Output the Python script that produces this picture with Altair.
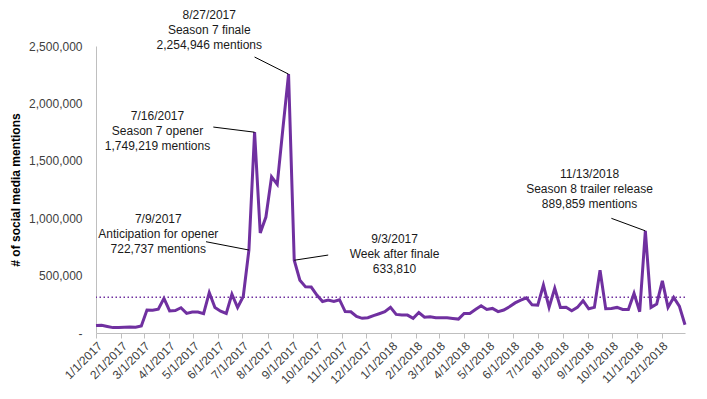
import altair as alt
import pandas as pd

# Weekly mentions, week starting 1/1/2017 through 12/30/2018
start_date = "2017-01-01"
end_date = "2018-12-30"
mentions = [
    65000, 68000, 57000, 47000, 48000, 50000, 53000, 50000, 62000, 200000,
    198000, 208000, 302000, 192000, 196000, 220000, 171000, 182000, 182000, 168000,
    352000, 222000, 190000, 170000, 338000, 222000, 318000, 722737, 1749219, 871000,
    1010000, 1360000, 1295000, 1780000, 2254946, 633810, 460000, 402000, 400000, 330000,
    274000, 286000, 274000, 290000, 187000, 185000, 144000, 128000, 133000, 152000,
    168000, 185000, 224000, 162000, 156000, 156000, 128000, 178000, 137000, 142000,
    133000, 133000, 133000, 127000, 121000, 170000, 170000, 205000, 237000, 205000,
    214000, 186000, 200000, 228000, 262000, 286000, 307000, 245000, 243000, 417000,
    223000, 390000, 223000, 225000, 194000, 223000, 281000, 211000, 223000, 547000,
    211000, 214000, 223000, 205000, 205000, 345000, 185000, 889859, 223000, 252000,
    454000, 223000, 310000, 234000, 72000,
]
weeks = pd.date_range(start_date, periods=len(mentions), freq="7D").strftime("%Y-%m-%d").tolist()
average_value = [311000]
y_ticks = [0, 500000, 1000000, 1500000, 2000000, 2500000]

# Annotations
ann_text = [
    "8/27/2017\nSeason 7 finale\n2,254,946 mentions",
    "7/16/2017\nSeason 7 opener\n1,749,219 mentions",
    "7/9/2017\nAnticipation for opener\n722,737 mentions",
    "9/3/2017\nWeek after finale\n633,810",
    "11/13/2018\nSeason 8 trailer release\n889,859 mentions",
]
ann_text_date = ["2017-05-21", "2017-03-18", "2017-03-19", "2018-01-05", "2018-09-03"]
ann_text_value = [2812000, 1930000, 1035000, 864000, 1427000]
lead_from_date = ["2017-07-16", "2017-05-26", "2017-05-17", "2017-09-03", "2018-09-30"]
lead_from_value = [2404000, 1794000, 795000, 633810, 999000]
lead_to_date = ["2017-08-27", "2017-07-16", "2017-07-09", "2017-10-15", "2018-11-11"]
lead_to_value = [2254946, 1749219, 722737, 679000, 889859]

PURPLE = "#7030A0"

df = pd.DataFrame({"week": weeks, "mentions": mentions})
ann = pd.DataFrame({
    "text": ann_text, "tdate": ann_text_date, "tval": ann_text_value,
    "d1": lead_from_date, "v1": lead_from_value, "d2": lead_to_date, "v2": lead_to_value,
})
avg = pd.DataFrame({"avg": average_value})

xscale = alt.Scale(type="utc", domain=[start_date, end_date])
yscale = alt.Scale(domain=[0, 2500000])

x_axis = alt.Axis(
    title=None,
    tickCount={"interval": "month", "step": 1},
    labelExpr="utcFormat(datum.value, '%-m/%-d/%Y')",
    labelAngle=315,
    labelFontSize=12,
    labelColor="#404040",
    labelFont="Liberation Sans",
    domainColor="#bfbfbf",
    tickColor="#bfbfbf",
    tickSize=5,
    grid=False,
    labelOverlap=False,
)
y_axis = alt.Axis(
    title="# of social media mentions",
    titleFont="Liberation Sans",
    titleFontSize=12,
    titleFontWeight="bold",
    titleColor="#000000",
    titlePadding=6,
    values=y_ticks,
    labelExpr="datum.value == 0 ? '-\u00a0\u00a0' : format(datum.value, ',')",
    labelFontSize=12,
    labelColor="#404040",
    labelFont="Liberation Sans",
    labelPadding=14,
    tickSize=0,
    domainColor="#bfbfbf",
    grid=False,
)

line = alt.Chart(df).mark_line(color=PURPLE, strokeWidth=3, clip=False).encode(
    x=alt.X("week:T", scale=xscale, axis=x_axis),
    y=alt.Y("mentions:Q", scale=yscale, axis=y_axis),
)

avg_rule = alt.Chart(avg).mark_rule(color=PURPLE, strokeWidth=1.5, strokeDash=[1.5, 2.5]).encode(
    y=alt.Y("avg:Q", scale=yscale),
)

leaders = alt.Chart(ann).mark_rule(color="#000000", strokeWidth=1).encode(
    x=alt.X("d1:T", scale=xscale),
    y=alt.Y("v1:Q", scale=yscale),
    x2="d2:T",
    y2="v2:Q",
)

labels = alt.Chart(ann).mark_text(
    font="Liberation Sans", fontSize=12, color="#1a1a1a", align="center",
    baseline="top", lineBreak="\n", lineHeight=15,
).encode(
    x=alt.X("tdate:T", scale=xscale),
    y=alt.Y("tval:Q", scale=yscale),
    text="text:N",
)

chart = alt.layer(avg_rule, line, leaders, labels).properties(
    width=589,
    height=287,
    autosize=alt.AutoSizeParams(type="none"),
    padding={"left": 88, "top": 38, "right": 10, "bottom": 60},
    background="white",
).configure_view(stroke=None)

chart.save("out.html", embed_options={"renderer": "svg", "actions": False})
